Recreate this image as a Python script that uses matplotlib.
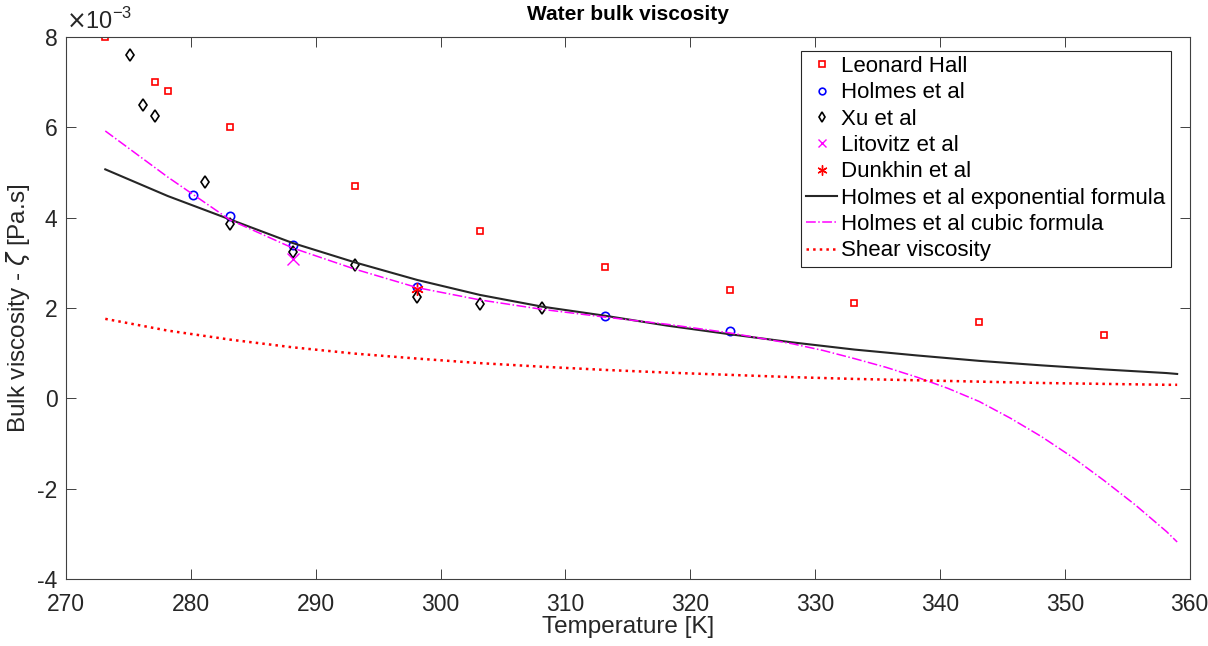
import matplotlib
matplotlib.use("Agg")
import matplotlib.pyplot as plt

plt.rcParams['font.family'] = ['Liberation Sans', 'DejaVu Sans']
plt.rcParams['axes.unicode_minus'] = False

# values are in units of 1e-3 Pa.s
hall_T = [273.15, 277.15, 278.15, 283.15, 293.15, 303.15, 313.15, 323.15, 333.15, 343.15, 353.15]
hall_v = [8.0, 7.0, 6.8, 6.0, 4.7, 3.7, 2.9, 2.4, 2.1, 1.7, 1.4]

holmes_T = [280.15, 283.15, 288.15, 298.15, 313.15, 323.15]
holmes_v = [4.5, 4.03, 3.4, 2.46, 1.83, 1.48]

xu_T = [275.15, 276.15, 277.15, 281.15, 283.15, 288.15, 293.15, 298.15, 303.15, 308.15]
xu_v = [7.6, 6.5, 6.25, 4.8, 3.85, 3.25, 2.95, 2.24, 2.08, 2.0]

lit_T = [288.15]
lit_v = [3.08]

dun_T = [298.15]
dun_v = [2.42]

curve_T = [273.15, 278.15, 283.15, 288.15, 293.15, 298.15, 303.15, 308.15, 313.15,
           318.15, 323.15, 328.15, 333.15, 338.15, 343.15, 348.15, 353.15, 358.15, 359.0]
exp_v = [5.07, 4.48, 3.96, 3.44, 3.01, 2.62, 2.29, 2.03, 1.83,
         1.61, 1.42, 1.24, 1.08, 0.95, 0.83, 0.73, 0.64, 0.56, 0.54]
shear_v = [1.76, 1.50, 1.30, 1.13, 0.99, 0.88, 0.78, 0.70, 0.63,
           0.57, 0.52, 0.47, 0.43, 0.40, 0.37, 0.34, 0.32, 0.30, 0.30]

cubic_T = [273.15, 278.15, 283.15, 288.15, 293.15, 298.15, 303.15, 308.15, 313.15,
           318.15, 323.15, 328.15, 330.65, 333.15, 335.65, 338.15, 340.65, 343.15,
           345.65, 348.15, 350.65, 353.15, 355.65, 358.15, 359.0]
cubic_v = [5.92, 4.90, 3.95, 3.33, 2.86, 2.45, 2.18, 1.97, 1.80,
           1.64, 1.45, 1.21, 1.06, 0.88, 0.69, 0.47, 0.22, -0.07,
           -0.44, -0.85, -1.31, -1.82, -2.36, -2.95, -3.18]

axc = '#404040'

fig = plt.figure(figsize=(12.08, 6.46), dpi=100)
ax = fig.add_axes([0.0546, 0.1037, 0.9302, 0.8390])

ax.plot(hall_T, hall_v, 's', color='red', mfc='none', ms=5, mew=1.2, label='Leonard Hall')
ax.plot(holmes_T, holmes_v, 'o', color='blue', mfc='none', ms=6, mew=1.2, label='Holmes et al')
ax.plot(xu_T, xu_v, 'd', color='black', mfc='none', ms=6, mew=1.2, label='Xu et al')
ax.plot(lit_T, lit_v, 'x', color='magenta', ms=8, mew=1, label='Litovitz et al')
ax.plot(dun_T, dun_v, marker=(6, 2, 0), ls='none', color='red', ms=9, mew=1, label='Dunkhin et al')
ax.plot(curve_T, exp_v, '-', color='#262626', lw=1.5, label='Holmes et al exponential formula')
ax.plot(cubic_T, cubic_v, '-.', color='magenta', lw=1.1, label='Holmes et al cubic formula')
ax.plot(curve_T, shear_v, ':', color='red', lw=1.8, label='Shear viscosity')

ax.set_xlim(270, 360)
ax.set_ylim(-4, 8)
ax.set_xticks(range(270, 361, 10))
ax.set_yticks(range(-4, 9, 2))
ax.tick_params(direction='in', top=True, right=True, labelsize=16.5, length=7,
               width=0.7, colors=axc, labelcolor='#262626')
ax.tick_params(axis='x', pad=10)
ax.tick_params(axis='y', pad=6)
for s in ax.spines.values():
    s.set_color(axc)
    s.set_linewidth(0.8)

ax.text(0.0, 1.006, r'$\times$10$^{\mathregular{-3}}$', transform=ax.transAxes, fontsize=17,
        color='#262626', va='bottom', ha='left')
ax.set_xlabel('Temperature [K]', fontsize=17.5, color='#262626', labelpad=0)
ax.set_ylabel(r'Bulk viscosity - $\zeta$ [Pa.s]', fontsize=17.5, color='#262626', labelpad=4)
ax.set_title('Water bulk viscosity', fontsize=15, fontweight='bold', pad=12)

leg = ax.legend(loc='upper right', bbox_to_anchor=(0.983, 0.975), fontsize=16,
                fancybox=False, edgecolor='#262626', framealpha=1, markerscale=0.8,
                handlelength=1.4, handletextpad=0.15, labelspacing=0.24,
                borderpad=0.25, borderaxespad=0)
leg.get_frame().set_linewidth(0.8)

fig.savefig('out.png', dpi=100)
